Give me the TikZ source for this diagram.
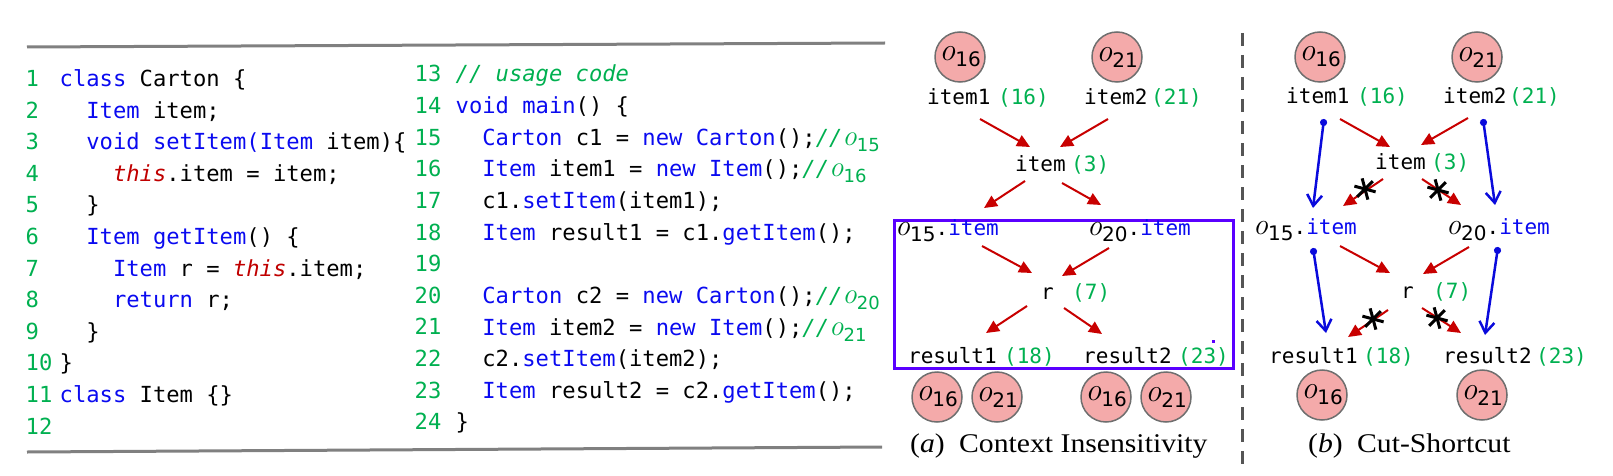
\documentclass[tikz,border=0pt]{standalone}
\usepackage{fontspec}
\setmainfont{Liberation Serif}
\newfontfamily\codef{DejaVu Sans Mono}
\newfontfamily\subf{DejaVu Sans}
\newfontfamily\lmr{Latin Modern Roman}
\usetikzlibrary{arrows.meta}
\definecolor{kwblue}{RGB}{10,10,240}
\definecolor{thisred}{RGB}{192,0,0}
\definecolor{cgreen}{RGB}{0,176,80}
\definecolor{arrred}{RGB}{200,0,0}
\definecolor{boxblue}{RGB}{90,0,255}
\definecolor{circfill}{RGB}{244,170,170}
\definecolor{circline}{RGB}{110,110,110}
\definecolor{rulegray}{RGB}{128,128,128}
\definecolor{sepgray}{RGB}{85,85,85}
\definecolor{arrblue}{RGB}{10,10,220}
\newcommand\kw[1]{\textcolor{kwblue}{#1}}
\newcommand\tk{\textcolor{thisred}{\itshape this}}
\newcommand\osub[3]{{\lmr\itshape\fontsize{#1}{#1}\selectfont o}\raisebox{-6pt}{\subf\fontsize{#2}{#2}\selectfont #3}}
\newcommand\ocm[1]{\textcolor{cgreen}{{\itshape //}\osub{29}{18}{#1}}}
\begin{document}
\begin{tikzpicture}[x=1pt,y=-1pt,
  code/.style={anchor=base west, inner sep=0, font=\codef\fontsize{22.15}{26}\selectfont},
  lnum/.style={code, text=cgreen},
  gtxt/.style={anchor=base west, inner sep=0, font=\codef\fontsize{21}{25}\selectfont},
  glab/.style={gtxt, text=cgreen},
  circ/.style={circle, draw=circline, fill=circfill, line width=1.5pt, minimum size=50pt, inner sep=0},
  redarr/.style={draw=arrred, line width=2pt, -{Triangle[length=13pt,width=12pt]}},
  bluearr/.style={draw=arrblue, line width=2.5pt, {Circle[length=7pt]}-{Straight Barb[length=11pt,width=15pt]}},
  rulel/.style={draw=rulegray, line width=3pt},
  sepline/.style={draw=sepgray, line width=3pt, dash pattern=on 13pt off 9pt},
  boxline/.style={draw=boxblue, line width=3pt},
  capt/.style={anchor=base west, inner sep=0, font=\fontsize{27}{30}\selectfont},
  astline/.style={draw=black, line width=3pt}]
\useasboundingbox (0,0) rectangle (1613,476);

% rules
\draw[rulel] (27,47) -- (885,43);
\draw[rulel] (27,452) -- (882,447);

% line numbers
\foreach \i in {1,...,12} \node[lnum] (ln\i) at (25.5,{86.5+(\i-1)*31.6}) {\i};
\foreach \i in {13,...,24} \node[lnum] (ln\i) at (414.5,{81.7+(\i-13)*31.66}) {\i};

% code column 1
\node[code] (c1)  at (59.5,86.5)  {\kw{class} Carton \{};
\node[code] (c2)  at (86.2,118.1) {\kw{Item} item;};
\node[code] (c3)  at (86.2,149.7) {\kw{void} \kw{setItem(Item} item)\{};
\node[code] (c4)  at (112.8,181.3) {\tk.item = item;};
\node[code] (c5)  at (86.2,212.9) {\}};
\node[code] (c6)  at (86.2,244.5) {\kw{Item} \kw{getItem}() \{};
\node[code] (c7)  at (112.8,276.1) {\kw{Item} r = \tk.item;};
\node[code] (c8)  at (112.8,307.7) {\kw{return} r;};
\node[code] (c9)  at (86.2,339.3) {\}};
\node[code] (c10) at (59.5,370.9) {\}};
\node[code] (c11) at (59.5,402.5) {\kw{class} Item \{\}};

% code column 2
\node[code] (c13) at (455.5,81.7)  {\textcolor{cgreen}{\itshape // usage code}};
\node[code] (c14) at (455.5,113.4) {\kw{void} \kw{main}() \{};
\node[code] (c15) at (482.2,145.0) {\kw{Carton} c1 = \kw{new} \kw{Carton}();\ocm{15}};
\node[code] (c16) at (482.2,176.7) {\kw{Item} item1 = \kw{new} \kw{Item}();\ocm{16}};
\node[code] (c17) at (482.2,208.3) {c1.\kw{setItem}(item1);};
\node[code] (c18) at (482.2,240.0) {\kw{Item} result1 = c1.\kw{getItem}();};
\node[code] (c20) at (482.2,303.3) {\kw{Carton} c2 = \kw{new} \kw{Carton}();\ocm{20}};
\node[code] (c21) at (482.2,335.0) {\kw{Item} item2 = \kw{new} \kw{Item}();\ocm{21}};
\node[code] (c22) at (482.2,366.6) {c2.\kw{setItem}(item2);};
\node[code] (c23) at (482.2,398.3) {\kw{Item} result2 = c2.\kw{getItem}();};
\node[code] (c24) at (455.5,429.9) {\}};

% ---------- (a) ----------
\draw[boxline] (894,220) rectangle (1233,368);
\fill[boxblue] (1211.5,339.5) rectangle ++(3.5,3.5);

\node[circ] (a-t16) at (960,57) {\osub{32}{20}{16}};
\node[circ] (a-t21) at (1117,57) {\osub{32}{20}{21}};
\node[gtxt] (a-item1) at (927,105) {item1};
\node[glab] (a-item1l) at (998,105) {(16)};
\node[gtxt] (a-item2) at (1084,105) {item2};
\node[glab] (a-item2l) at (1151,105) {(21)};
\node[gtxt] (a-item) at (1015,171) {item};
\node[glab] (a-iteml) at (1071,171) {(3)};
\node[gtxt] (a-o15) at (895,235) {\osub{30}{20}{15}.\kw{item}};
\node[gtxt] (a-o20) at (1087,235) {\osub{30}{20}{20}.\kw{item}};
\node[gtxt] (a-r) at (1041,299) {r};
\node[glab] (a-rl) at (1072,299) {(7)};
\node[gtxt] (a-res1) at (908,363) {result1};
\node[glab] (a-res1l) at (1004,363) {(18)};
\node[gtxt] (a-res2) at (1083,363) {result2};
\node[glab] (a-res2l) at (1178,363) {(23)};
\node[circ] (a-b16a) at (937,397) {\osub{32}{20}{16}};
\node[circ] (a-b21a) at (997,397) {\osub{32}{20}{21}};
\node[circ] (a-b16b) at (1106,397) {\osub{32}{20}{16}};
\node[circ] (a-b21b) at (1166,397) {\osub{32}{20}{21}};

\coordinate (a1s) at (980,119);  \coordinate (a1e) at (1030,147);
\coordinate (a2s) at (1108,119); \coordinate (a2e) at (1060,147);
\coordinate (a3s) at (1025,181); \coordinate (a3e) at (984,208);
\coordinate (a4s) at (1062,183); \coordinate (a4e) at (1101,205);
\coordinate (a5s) at (982,246);  \coordinate (a5e) at (1032,273);
\coordinate (a6s) at (1109,248); \coordinate (a6e) at (1062,276);
\coordinate (a7s) at (1027,306); \coordinate (a7e) at (986,333);
\coordinate (a8s) at (1064,308); \coordinate (a8e) at (1102,334);
\foreach \k in {1,...,8} \draw[redarr] (a\k s) -- (a\k e);

\node[capt] (capa) at (910,452) {\scalebox{1.1}[1]{(\textit{a})\hspace{13pt}Context Insensitivity}};

% separator
\draw[sepline] (1242,33) -- (1242,464);

% ---------- (b) ----------
\node[circ] (b-t16) at (1320,57) {\osub{32}{20}{16}};
\node[circ] (b-t21) at (1477,57) {\osub{32}{20}{21}};
\node[gtxt] (b-item1) at (1286,104) {item1};
\node[glab] (b-item1l) at (1357,104) {(16)};
\node[gtxt] (b-item2) at (1443,104) {item2};
\node[glab] (b-item2l) at (1509,104) {(21)};
\node[gtxt] (b-item) at (1375,169) {item};
\node[glab] (b-iteml) at (1431,169) {(3)};
\node[gtxt] (b-o15) at (1253,234) {\osub{30}{20}{15}.\kw{item}};
\node[gtxt] (b-o20) at (1446,234) {\osub{30}{20}{20}.\kw{item}};
\node[gtxt] (b-r) at (1401,298) {r};
\node[glab] (b-rl) at (1433,298) {(7)};
\node[gtxt] (b-res1) at (1269,363) {result1};
\node[glab] (b-res1l) at (1363,363) {(18)};
\node[gtxt] (b-res2) at (1443,363) {result2};
\node[glab] (b-res2l) at (1536,363) {(23)};
\node[circ] (b-b16) at (1322,395) {\osub{32}{20}{16}};
\node[circ] (b-b21) at (1482,395) {\osub{32}{20}{21}};

\coordinate (b1s) at (1340,119); \coordinate (b1e) at (1390,147);
\coordinate (b2s) at (1468,118); \coordinate (b2e) at (1421,145);
\coordinate (b3s) at (1383,179); \coordinate (b3e) at (1343,206);
\coordinate (b4s) at (1422,179); \coordinate (b4e) at (1461,205);
\coordinate (b5s) at (1340,246); \coordinate (b5e) at (1390,273);
\coordinate (b6s) at (1469,247); \coordinate (b6e) at (1423,274);
\coordinate (b7s) at (1388,310); \coordinate (b7e) at (1348,337);
\coordinate (b8s) at (1422,308); \coordinate (b8e) at (1461,333);
\foreach \k in {1,...,8} \draw[redarr] (b\k s) -- (b\k e);

\coordinate (l1s) at (1324,119); \coordinate (l1e) at (1313,208);
\coordinate (l2s) at (1483,119); \coordinate (l2e) at (1495,205);
\coordinate (l3s) at (1313,248); \coordinate (l3e) at (1326,333);
\coordinate (l4s) at (1498,247); \coordinate (l4e) at (1485,335);
\foreach \k in {1,...,4} \draw[bluearr] (l\k s) -- (l\k e);

\coordinate (ast1) at (1365,189);
\coordinate (ast2) at (1438,190);
\coordinate (ast3) at (1373,319);
\coordinate (ast4) at (1437,318);
\foreach \k in {1,...,4} \foreach \a in {15,75,135} \draw[astline] (ast\k) ++(\a:11) -- ++(\a+180:22);

\node[capt] (capb) at (1308,452) {\scalebox{1.1}[1]{(\textit{b})\hspace{13pt}Cut-Shortcut}};
\end{tikzpicture}
\end{document}
